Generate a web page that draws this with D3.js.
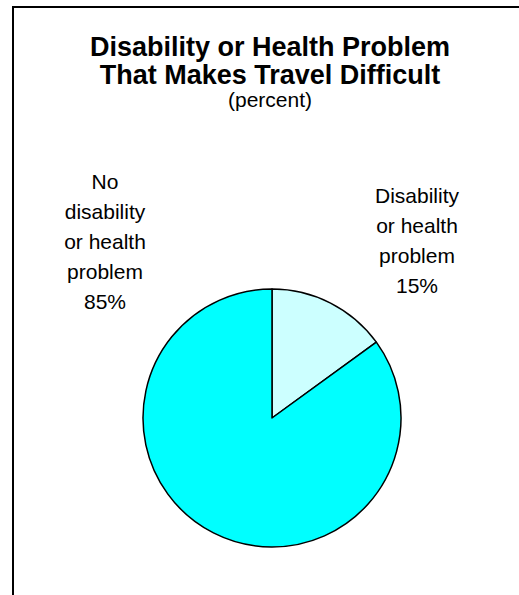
<!DOCTYPE html>
<html>
<head>
<meta charset="utf-8">
<script src="https://cdn.jsdelivr.net/npm/d3@7"></script>
<style>
  body { margin: 0; background: #fff; }
  svg { display: block; font-family: Arial, "Liberation Sans", sans-serif; }
</style>
</head>
<body>
<svg id="chart" width="519" height="595"></svg>
<script>
// chart data
const categories = ["Disability or health problem", "No disability or health problem"];
const values = [15, 85];
const labelLines = [
  ["Disability", "or health", "problem", "15%"],
  ["No", "disability", "or health", "problem", "85%"]
];
const colors = ["#CCFFFF", "#00FFFF"];
const titleLines = ["Disability or Health Problem", "That Makes Travel Difficult"];
const subtitle = "(percent)";

const svg = d3.select('#chart');
const width = +svg.attr('width');
const height = +svg.attr('height');

svg.append('rect').attr('width', width).attr('height', height).attr('fill', '#fff');

// frame (top and left edges visible)
svg.append('path')
  .attr('d', 'M13,' + (height + 2) + 'V7H' + (width + 2))
  .attr('fill', 'none')
  .attr('stroke', '#000')
  .attr('stroke-width', 2);

// titles
titleLines.forEach((t, i) => {
  svg.append('text')
    .attr('x', 270).attr('y', 56 + i * 28)
    .attr('text-anchor', 'middle')
    .attr('font-size', 27).attr('font-weight', 'bold')
    .text(t);
});
svg.append('text')
  .attr('x', 270).attr('y', 107)
  .attr('text-anchor', 'middle')
  .attr('font-size', 21)
  .text(subtitle);

// pie
const cx = 272, cy = 418, r = 129;
const pie = d3.pie().sort(null).value(d => d)(values);
const arc = d3.arc().innerRadius(0).outerRadius(r);
const g = svg.append('g').attr('transform', `translate(${cx},${cy})`);
g.selectAll('path').data(pie).enter().append('path')
  .attr('d', arc)
  .attr('fill', (d, i) => colors[i])
  .attr('stroke', '#000')
  .attr('stroke-width', 1.5)
  .attr('stroke-linejoin', 'round');

// labels
const labelPos = [[417, 203], [105, 189]];
labelLines.forEach((lines, i) => {
  const t = svg.append('text')
    .attr('x', labelPos[i][0]).attr('y', labelPos[i][1])
    .attr('text-anchor', 'middle')
    .attr('font-size', 21);
  lines.forEach((l, j) => {
    t.append('tspan').attr('x', labelPos[i][0]).attr('y', labelPos[i][1] + j * 30).text(l);
  });
});
</script>
</body>
</html>
